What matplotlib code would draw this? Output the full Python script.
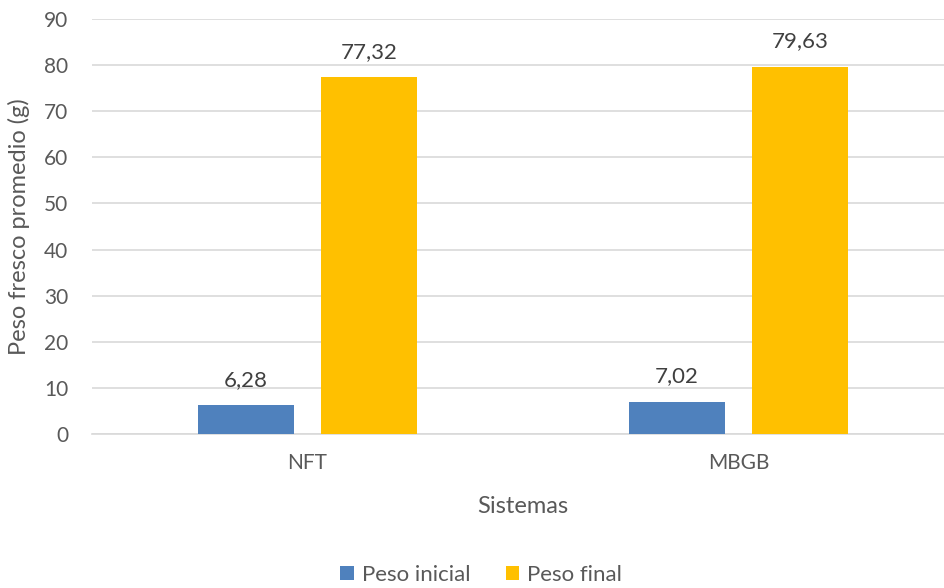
import matplotlib
matplotlib.use("Agg")
import matplotlib.pyplot as plt
import numpy as np

sistemas = ["NFT", "MBGB"]
peso_inicial = [6.28, 7.02]
peso_final = [77.32, 79.63]
series_names = ["Peso inicial", "Peso final"]
yticks = [0, 10, 20, 30, 40, 50, 60, 70, 80, 90]

plt.rcParams['font.family'] = ['Lato', 'DejaVu Sans']
text_color = "#595959"

fig = plt.figure(figsize=(9.45, 5.88), dpi=100)
ax = fig.add_axes([92 / 945, 1 - 434 / 588, 862 / 945, (434 - 19) / 588])

x = np.arange(len(sistemas))
w = 0.2227
off = 0.1427
b1 = ax.bar(x - off, peso_inicial, w, color="#4F81BD", label=series_names[0], zorder=3)
b2 = ax.bar(x + off, peso_final, w, color="#FFC000", label=series_names[1], zorder=3)

for bars, vals in ((b1, peso_inicial), (b2, peso_final)):
    for r, v in zip(bars, vals):
        ax.annotate(f"{v:.2f}".replace(".", ","),
                    (r.get_x() + r.get_width() / 2, v),
                    xytext=(0, 11), textcoords="offset points",
                    ha="center", va="bottom", fontsize=16, color="#404040")

ax.set_xlim(-0.5, 1.5)
ax.set_ylim(0, 90)
ax.set_yticks(yticks)
ax.set_xticks(x)
ax.set_xticklabels(sistemas)
ax.yaxis.grid(True, color="#D9D9D9", linewidth=1.2, zorder=0)
ax.set_axisbelow(True)
for s in ("top", "right", "left"):
    ax.spines[s].set_visible(False)
ax.spines["bottom"].set_color("#D9D9D9")
ax.spines["bottom"].set_linewidth(1.2)
ax.tick_params(axis="both", length=0, labelsize=15, colors=text_color)
ax.tick_params(axis="y", pad=17)
ax.tick_params(axis="x", pad=14)

ax.set_xlabel("Sistemas", fontsize=17, color=text_color, labelpad=16)
ax.set_ylabel("Peso fresco promedio (g)", fontsize=17, color=text_color, labelpad=10)

ax.legend(loc="center", bbox_to_anchor=(481 / 945, 1 - 575 / 588),
          bbox_transform=fig.transFigure, ncol=2, frameon=False,
          fontsize=16, labelcolor=text_color, handlelength=0.6, handleheight=0.6,
          columnspacing=1.6, handletextpad=0.35)

fig.savefig("out.png", dpi=100)
